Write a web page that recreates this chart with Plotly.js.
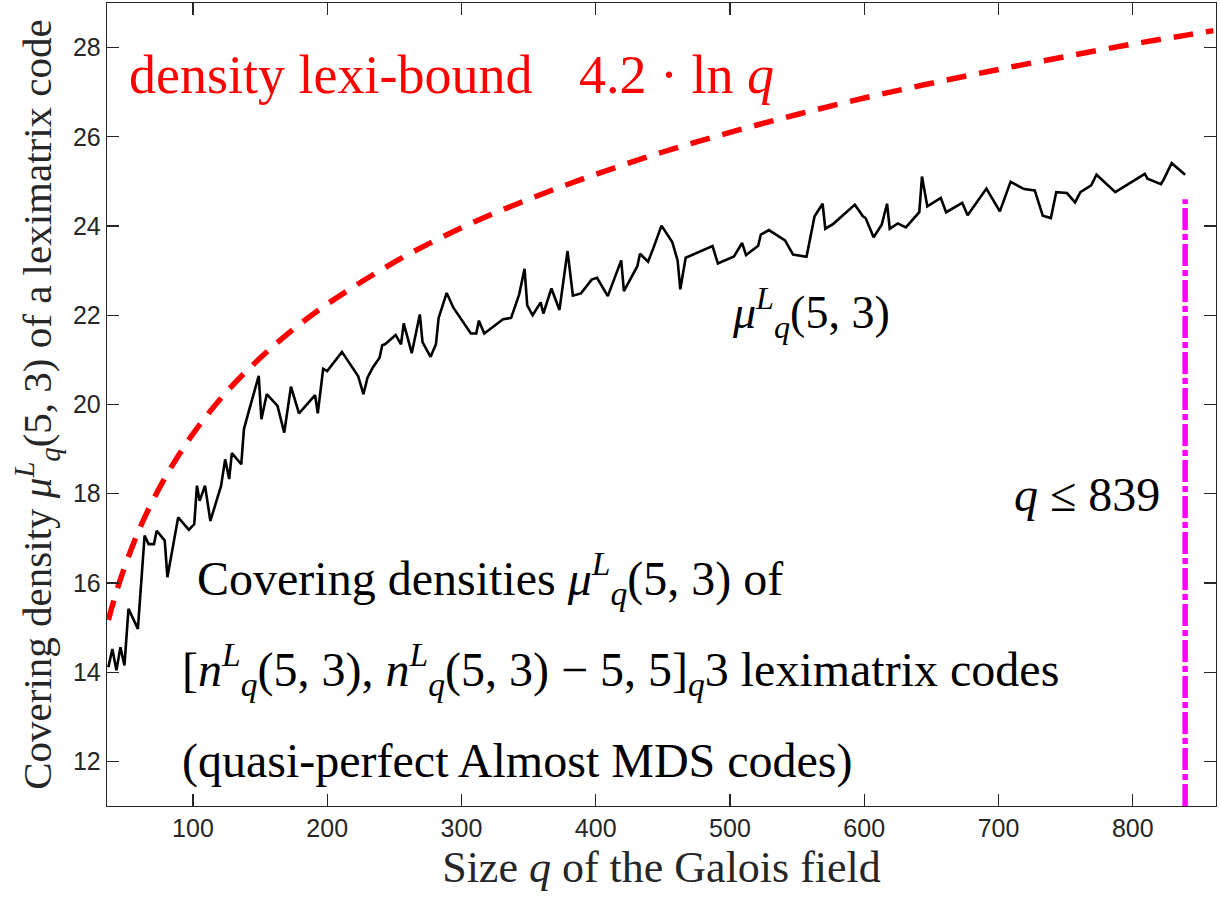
<!DOCTYPE html>
<html>
<head>
<meta charset="utf-8">
<script src="https://cdn.plot.ly/plotly-3.0.1.min.js"></script>
<style>html,body{margin:0;padding:0;background:#fff;}#chart{width:1220px;height:907px;}</style>
</head>
<body>
<div id="chart"></div>
<script>
// Black line: covering density mu_q^L(5,3)
const qValues = [37,40,43,46,49,52,59,64,67,71,73,79,81,89,97,101,103,105,109,113,121,124,127,129,136,138,142,149,151,155,163,168,173,179,
  191,193,197,200,211,223,227,230,234,239,241,243,251,255,257,263,269,271,277,281,283,289,294,307,311,313,317,
  331,337,343,347,349,353,359,361,367,373,379,383,389,397,401,409,419,421,431,433,439,443,449,457,461,463,467,487,491,
  503,509,512,521,523,529,541,547,557,563,569,571,577,587,593,599,601,607,613,617,619,625,631,641,643,647,657,661,
  673,677,691,701,709,719,727,733,739,743,751,757,761,769,773,787,809,811,821,823,829,839];
const muValues = [14.11,14.52,14.04,14.56,14.15,15.42,14.97,17.06,16.87,16.87,17.17,16.95,16.13,17.47,17.19,17.32,18.18,17.84,18.18,17.39,18.18,18.77,18.33,18.91,18.66,19.45,19.89,20.64,19.67,20.23,19.97,19.37,20.40,19.80,
  20.21,19.80,20.80,20.75,21.18,20.64,20.23,20.60,20.83,21.05,21.33,21.35,21.56,21.35,21.82,21.15,22.02,21.40,21.07,21.35,21.94,22.50,22.17,21.59,21.59,21.88,21.59,
  21.91,21.94,22.47,23.04,22.22,22.00,22.29,22.04,22.60,22.12,23.44,22.44,22.49,22.80,22.84,22.43,23.23,22.54,23.10,23.38,23.20,23.51,24.01,23.64,23.23,22.58,23.29,23.55,23.16,
  23.32,23.62,23.35,23.56,23.81,23.91,23.68,23.36,23.31,24.22,24.50,23.94,24.05,24.33,24.48,24.22,24.18,23.75,24.03,24.50,23.94,24.06,23.97,24.31,25.11,24.44,24.63,24.31,
  24.52,24.24,24.84,24.33,24.99,24.83,24.80,24.23,24.18,24.76,24.74,24.53,24.76,24.91,25.15,24.76,25.17,25.06,24.94,25.04,25.41,25.15];

// Red dashed curve: density lexi-bound
const boundQ = [37,45,55,65,80,100,125,150,175,200,250,300,350,400,450,500,550,600,650,700,750,800,840,860];
const boundValues = [15.17,15.99,16.83,17.53,18.40,19.34,20.28,21.04,21.69,22.25,23.19,23.96,24.60,25.16,25.66,26.10,26.50,26.87,27.20,27.51,27.80,28.08,28.28,28.38];

// Magenta vertical marker q <= 839
const limitQ = [839, 839];
const limitValues = [11, 24.6];

const xTickVals = [100,200,300,400,500,600,700,800];
const yTickVals = [12,14,16,18,20,22,24,26,28];

const serif = "Liberation Serif, Times New Roman, serif";
const sans = "Liberation Sans, Arial, Helvetica, sans-serif";

const traces = [
  {x: boundQ, y: boundValues, type: 'scatter', mode: 'lines',
   line: {color: '#ff0000', width: 5.5, dash: '20px,13px', shape: 'spline'}, hoverinfo: 'skip'},
  {x: qValues, y: muValues, type: 'scatter', mode: 'lines',
   line: {color: '#000000', width: 2.6}, hoverinfo: 'skip'},
  {x: limitQ, y: limitValues, type: 'scatter', mode: 'lines',
   line: {color: '#ff00ff', width: 5.5, dash: '22px,4px,6px,4px'}, hoverinfo: 'skip'}
];

const layout = {
  width: 1220, height: 907,
  margin: {l: 107, r: 4, t: 3, b: 101},
  paper_bgcolor: '#ffffff', plot_bgcolor: '#ffffff',
  showlegend: false,
  xaxis: {
    range: [36, 862], tickvals: xTickVals, ticktext: xTickVals.map(String),
    ticks: 'inside', ticklen: 12, tickwidth: 1.2, tickcolor: '#262626',
    showline: true, linecolor: '#262626', linewidth: 1.3, mirror: 'ticks',
    showgrid: false, zeroline: false,
    tickfont: {family: sans, size: 25, color: '#262626'},
    title: {text: 'Size <i>q</i> of the Galois field', font: {family: serif, size: 44, color: '#262626'}, standoff: 10}
  },
  yaxis: {
    range: [11, 29], tickvals: yTickVals, ticktext: yTickVals.map(String),
    ticks: 'inside', ticklen: 12, tickwidth: 1.2, tickcolor: '#262626',
    showline: true, linecolor: '#262626', linewidth: 1.3, mirror: 'ticks',
    showgrid: false, zeroline: false,
    tickfont: {family: sans, size: 25, color: '#262626'},
    title: {text: 'Covering density <i>μ</i><sup><i>L</i></sup><sub><i>q</i></sub>(5, 3) of a leximatrix code', font: {family: serif, size: 41, color: '#262626'}, standoff: 8}
  },
  annotations: [
    {x: 51, y: 27.39, xref: 'x', yref: 'y', xanchor: 'left', yanchor: 'middle', showarrow: false,
     text: 'density lexi-bound', font: {family: serif, size: 54, color: '#ff0000'}},
    {x: 386, y: 27.39, xref: 'x', yref: 'y', xanchor: 'left', yanchor: 'middle', showarrow: false,
     text: '4.2 · ln <i>q</i>', font: {family: serif, size: 54, color: '#ff0000'}},
    {x: 500, y: 22.06, xref: 'x', yref: 'y', xanchor: 'left', yanchor: 'middle', showarrow: false,
     text: '<i>μ</i><sup><i>L</i></sup><sub><i>q</i></sub>(5, 3)', font: {family: serif, size: 46, color: '#000000'}},
    {x: 822, y: 17.99, xref: 'x', yref: 'y', xanchor: 'right', yanchor: 'middle', showarrow: false,
     text: '<i>q</i> ≤ 839', font: {family: serif, size: 48, color: '#000000'}},
    {x: 101.6, y: 16.1, xref: 'x', yref: 'y', xanchor: 'left', yanchor: 'middle', showarrow: false,
     text: 'Covering densities <i>μ</i><sup><i>L</i></sup><sub><i>q</i></sub>(5, 3) of', font: {family: serif, size: 48, color: '#000000'}},
    {x: 90.5, y: 14.07, xref: 'x', yref: 'y', xanchor: 'left', yanchor: 'middle', showarrow: false,
     text: '[<i>n</i><sup><i>L</i></sup><sub><i>q</i></sub>(5, 3), <i>n</i><sup><i>L</i></sup><sub><i>q</i></sub>(5, 3) − 5, 5]<sub><i>q</i></sub>3 leximatrix codes', font: {family: serif, size: 48, color: '#000000'}},
    {x: 90.5, y: 12.02, xref: 'x', yref: 'y', xanchor: 'left', yanchor: 'middle', showarrow: false,
     text: '(quasi-perfect Almost MDS codes)', font: {family: serif, size: 48, color: '#000000'}}
  ]
};

Plotly.newPlot('chart', traces, layout, {staticPlot: true, displayModeBar: false});
</script>
</body>
</html>
